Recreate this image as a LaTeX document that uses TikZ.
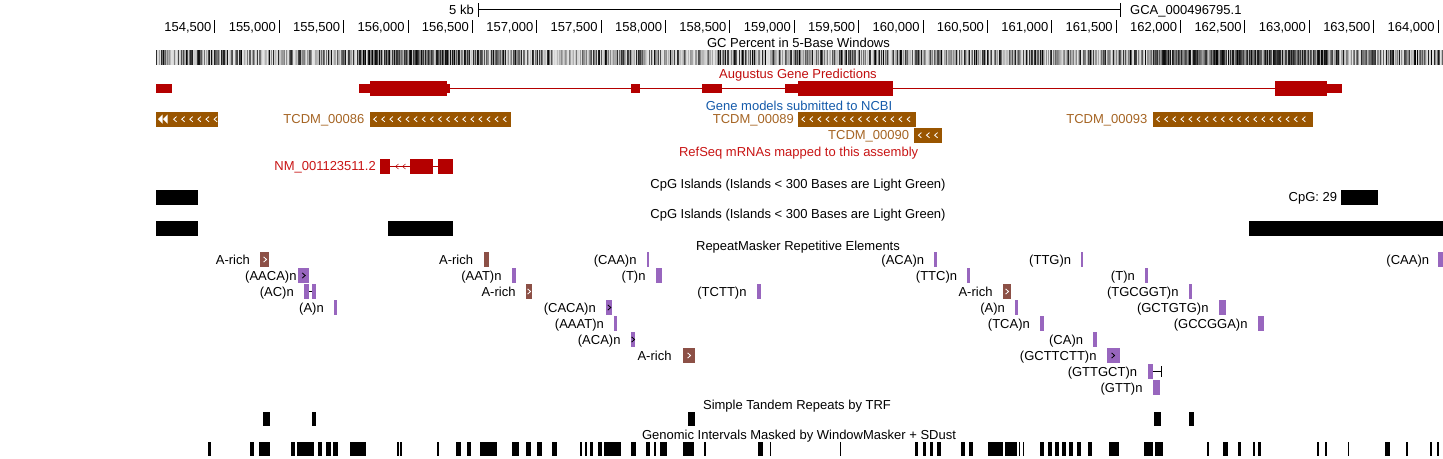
\documentclass[tikz,border=0pt]{standalone}
\usepackage{fontspec}
\setmainfont{Liberation Sans}
\usepackage{xcolor}

\definecolor{augred}{RGB}{180,0,0}
\definecolor{augtext}{RGB}{192,12,12}
\definecolor{ncbiblue}{RGB}{20,90,170}
\definecolor{tcdmfill}{RGB}{153,85,0}
\definecolor{tcdmtext}{RGB}{165,100,35}
\definecolor{refred}{RGB}{200,20,20}
\definecolor{arich}{RGB}{140,80,70}
\definecolor{simplerep}{RGB}{152,102,190}

\tikzset{
    every node/.style={font=\fontsize{13}{15}\selectfont, inner sep=0pt, text height=9.3pt, text depth=0pt},
    lab/.style={anchor=east},
    chev/.style={line width=0.8pt}
}

\begin{document}
\begin{tikzpicture}[x=1pt, y=-1pt]
\useasboundingbox (0,0) rectangle (1443,458);

% Base position ruler
\draw (478.6,3) -- (478.6,17) (478.6,9.5) -- (1120,9.5) (1120,3) -- (1120,17);
\node[lab] (kb) at (474,10) {5 kb};
\node[anchor=west] (asm) at (1130,10) {GCA\_000496795.1};
\foreach \lab [count=\k from 0] in {{154,500},{155,000},{155,500},{156,000},{156,500},{157,000},{157,500},{158,000},{158,500},{159,000},{159,500},{160,000},{160,500},{161,000},{161,500},{162,000},{162,500},{163,000},{163,500},{164,000}} {
    \draw (214.6+64.38*\k,20) -- (214.6+64.38*\k,33);
    \node[lab] (tick\k) at (211.6+64.38*\k,26.7) {\lab};
}

% GC percent, one grey column per pixel
\node (gc) at (798.5,43) {GC Percent in 5-Base Windows};
\pgfmathsetseed{7}
\foreach \x in {156,...,1442} {
    \pgfmathsetmacro{\p}{ifthenelse(or(and(\x>356,\x<470),and(\x>1150,\x<1340)),0.7,1.6)}
    \pgfmathsetmacro{\g}{10+90*rnd^\p}
    \draw[black!\g, line width=1pt] (\x+0.5,50) -- (\x+0.5,65);
}

% Augustus
\node[text=augtext] (aug) at (798,74) {Augustus Gene Predictions};
\draw[augred] (449,88) -- (785.4,88) (893,88) -- (1275.4,88);
\foreach \xa/\xb in {156.25/171.7, 359/369.6, 446.7/449.5, 631/640.4, 702/721.7, 785.4/798.3, 1326.7/1342}
    \fill[augred] (\xa,84.3) rectangle (\xb,92.7);
\foreach \xa/\xb in {369.6/446.7, 798.3/893, 1275.4/1326.7}
    \fill[augred] (\xa,81) rectangle (\xb,95.7);

% Gene models submitted to NCBI
\node[text=ncbiblue] (ncbi) at (799,105.7) {Gene models submitted to NCBI};
\fill[tcdmfill] (156,111.7) rectangle (218,126.7);
\fill[white] (162.5,114.7) -- (158,119.2) -- (162.5,123.7) -- cycle;
\fill[white] (167.5,114.7) -- (163,119.2) -- (167.5,123.7) -- cycle;
\foreach \cx in {175,183.1,...,216}
    \draw[white, chev] (\cx+1.6,116.6) -- (\cx-1.4,119.2) -- (\cx+1.6,121.8);
\foreach \name/\lx/\xa/\xb/\yy in {00086/364.6/369.6/511/119.2, 00089/794/797.7/915.7/119.2, 00090/909.3/914.3/941.7/135.2, 00093/1147.5/1152.5/1313/119.2} {
    \node[lab, text=tcdmtext] (tcdm\name) at (\lx,\yy) {TCDM\_\name};
    \fill[tcdmfill] (\xa,\yy-7.5) rectangle (\xb,\yy+7.5);
    \pgfmathsetmacro{\ca}{\xa+5.5}
    \pgfmathsetmacro{\cb}{\xa+13.6}
    \pgfmathsetmacro{\ce}{\xb-3}
    \foreach \cx in {\ca,\cb,...,\ce}
        \draw[white, chev] (\cx+1.6,\yy-2.6) -- (\cx-1.4,\yy) -- (\cx+1.6,\yy+2.6);
}

% RefSeq
\node[text=refred] (refseq) at (798.6,152.3) {RefSeq mRNAs mapped to this assembly};
\node[lab, text=refred] (nm) at (376,166.3) {NM\_001123511.2};
\draw[augred] (390,166.5) -- (410,166.5) (433,166.5) -- (438,166.5);
\foreach \cx in {397,404}
    \draw[augred, line width=0.5pt] (\cx+1.5,164) -- (\cx-1.5,166.5) -- (\cx+1.5,169);
\foreach \xa/\xb in {380/390, 410/433, 438/453}
    \fill[augred] (\xa,159) rectangle (\xb,174);

% CpG islands
\node (cpg1) at (798,184.3) {CpG Islands (Islands < 300 Bases are Light Green)};
\fill (156,190) rectangle (198,205);
\node[lab] (cpgn) at (1337.3,197.3) {CpG: 29};
\fill (1340.7,190) rectangle (1378,204.7);
\node (cpg2) at (798,214.3) {CpG Islands (Islands < 300 Bases are Light Green)};
\foreach \xa/\xb in {156/198, 388/453, 1249/1443}
    \fill (\xa,221) rectangle (\xb,235.7);

% RepeatMasker
\node (rmsk) at (798,245.7) {RepeatMasker Repetitive Elements};
\foreach \lab/\yy/\xl/\xa/\xb/\col in {A-rich/259.5/250/260/269/arich, (AACA)n/275.5/296.7/298/309/simplerep, (AC)n/291.5/294/304/309/simplerep, (A)n/307.5/324/334/337/simplerep, A-rich/259.5/473.3/484/489/arich, (AAT)n/275.5/501.7/512.3/516/simplerep, A-rich/291.5/515.7/526/531.7/arich, (CAA)n/259.5/636.7/646.7/649.3/simplerep, (T)n/275.5/645.7/656/661.7/simplerep, (TCTT)n/291.5/746.7/757/760.7/simplerep, (CACA)n/307.5/596/606/612.3/simplerep, (AAAT)n/323.5/604/614/616.7/simplerep, (ACA)n/339.5/620.7/631/635/simplerep, A-rich/355.5/671.7/682.7/695/arich, (ACA)n/259.5/924.3/934.3/937/simplerep, (TTG)n/259.5/1071.3/1081/1083/simplerep, (TTC)n/275.5/957.3/967/970/simplerep, (T)n/275.5/1135/1145/1147.7/simplerep, A-rich/291.5/992.7/1003/1011/arich, (TGCGGT)n/291.5/1178.7/1189/1192/simplerep, (A)n/307.5/1005/1015/1017.7/simplerep, (GCTGTG)n/307.5/1208.7/1219/1226/simplerep, (TCA)n/323.5/1030/1040/1044/simplerep, (GCCGGA)n/323.5/1247.7/1257.7/1264/simplerep, (CA)n/339.5/1083.3/1092.7/1097/simplerep, (GCTTCTT)n/355.5/1096.7/1107/1119.7/simplerep, (GTTGCT)n/371.5/1137.3/1148/1152.7/simplerep, (GTT)n/387.5/1142.7/1153.3/1160/simplerep, (CAA)n/259.5/1429.3/1438/1443/simplerep} {
    \node[lab] at (\xl,\yy) {\lab};
    \fill[\col] (\xa,\yy-7.3) rectangle (\xb,\yy+7.3);
}
\fill[simplerep] (312.3,284.2) rectangle (316,298.8);
\draw (309,291.5) -- (312.3,291.5);
\draw (1152.7,371.5) -- (1160.7,371.5) (1160.7,366) -- (1160.7,377);
\foreach \cx/\yy/\col in {265/259.5/white, 303.6/275.5/black, 529/291.5/white, 609.2/307.5/black, 633/339.5/black, 689/355.5/white, 1007/291.5/white, 1113/355.5/black}
    \draw[\col, chev] (\cx-1.4,\yy-2.6) -- (\cx+1.6,\yy) -- (\cx-1.4,\yy+2.6);

% TRF
\node (trf) at (797,404.5) {Simple Tandem Repeats by TRF};
\foreach \xa/\xb in {262.9/269.5, 311.8/316, 688.2/694.8, 1153.7/1160.8, 1189/1194}
    \fill (\xa,411.7) rectangle (\xb,425.7);

% WindowMasker
\node (wm) at (799,435) {Genomic Intervals Masked by WindowMasker + SDust};
\foreach \xa/\xb in {208.1/211, 249.6/253.7, 259/270.3, 291/295.2, 297.3/313.9, 318/322.2, 326.3/331.3, 332.6/338, 350.4/365.8, 396.9/399, 400.2/402.3, 437.1/439.2, 456.2/461.2, 466.6/470.7, 479.9/496.5, 512.2/519.3, 525.5/530.9, 537.1/542.1, 551.7/556.6, 579.5/581.5, 584.9/587, 589.8/593.2, 598.1/602.3, 604.4/621, 630.5/635.5, 645.8/650, 654.1/656.2, 659.5/666.6, 683.2/693.6, 704/706, 757.9/763.3, 769.5/771.2, 840/841.3, 915/918.3, 922.5/925.8, 930/933.3, 936.7/940.8, 960.8/965, 969.2/973.3, 988/1002.5, 1004.6/1017, 1019/1020.4, 1022.5/1023.75, 1040/1044, 1047.5/1051.7, 1054.6/1058.75, 1061.7/1065.8, 1069.2/1073.3, 1076.7/1080.8, 1088/1092, 1108.75/1119, 1144/1153, 1155/1163, 1206.7/1208.75, 1223.3/1227.5, 1238/1240.8, 1252.5/1254.6, 1257.5/1260.8, 1317/1319, 1324.6/1326.7, 1347.5/1349, 1385/1390, 1405.8/1408, 1429.6/1431.7, 1436.7/1439}
    \fill (\xa,441.7) rectangle (\xb,456);
\end{tikzpicture}
\end{document}
